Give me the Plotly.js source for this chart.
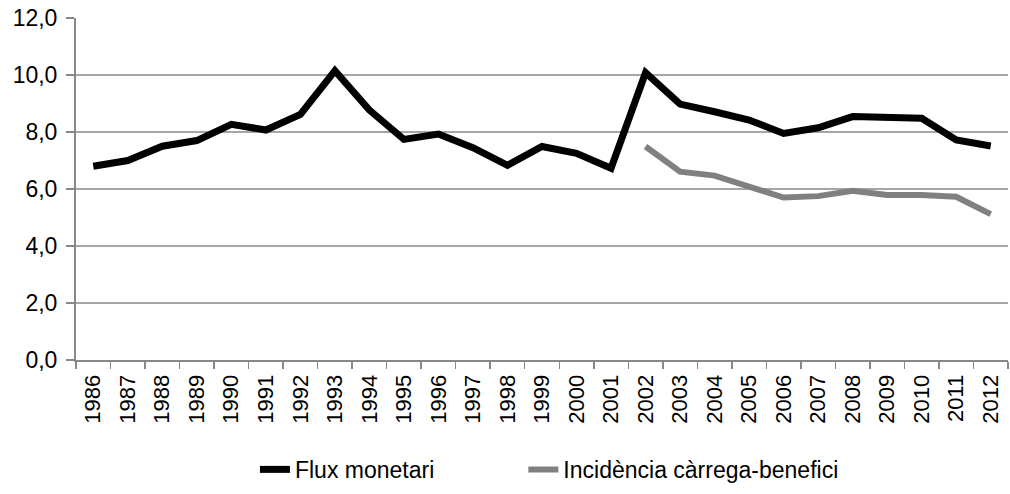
<!DOCTYPE html>
<html>
<head>
<meta charset="utf-8">
<script src="https://cdn.plot.ly/plotly-3.0.1.min.js"></script>
<style>html,body{margin:0;padding:0;background:#fff;}#chart{width:1010px;height:494px;}</style>
</head>
<body>
<div id="chart"></div>
<script>
var years = ["1986","1987","1988","1989","1990","1991","1992","1993","1994","1995","1996","1997","1998","1999","2000","2001","2002","2003","2004","2005","2006","2007","2008","2009","2010","2011","2012"];
var fluxMonetari = [6.8,7.0,7.5,7.7,8.27,8.07,8.62,10.15,8.77,7.74,7.93,7.45,6.83,7.49,7.25,6.73,10.08,8.98,8.71,8.42,7.95,8.15,8.54,8.48,8.48,7.72,7.51];
var incidencia = [null,null,null,null,null,null,null,null,null,null,null,null,null,null,null,null,7.49,6.61,6.47,6.08,5.70,5.75,5.94,5.79,5.79,5.73,5.12];
var seriesNames = ["Flux monetari","Incidència càrrega-benefici"];
var yTicks = [0,2,4,6,8,10,12];

var traces = [
  {x: years, y: fluxMonetari, name: seriesNames[0], type: "scatter", mode: "lines",
   line: {color: "#000000", width: 7}, connectgaps: false, legend: "legend"},
  {x: years, y: incidencia, name: seriesNames[1], type: "scatter", mode: "lines",
   line: {color: "#808080", width: 6}, connectgaps: false, legend: "legend2"}
];

var legendCommon = {orientation: "h", xanchor: "left", y: -0.32, yanchor: "middle",
                    font: {size: 23}, itemwidth: 30, bgcolor: "rgba(0,0,0,0)"};

var layout = {
  width: 1010, height: 494,
  margin: {l: 76, r: 2, t: 18, b: 134},
  paper_bgcolor: "#ffffff", plot_bgcolor: "#ffffff",
  font: {family: "Liberation Sans, Arial, sans-serif", size: 22, color: "#000000"},
  separators: ",.",
  showlegend: true,
  legend: Object.assign({}, legendCommon, {x: 0.192}),
  legend2: Object.assign({}, legendCommon, {x: 0.480}),
  xaxis: {type: "category", range: [-0.5, 26.5], tickangle: -90,
          tickson: "boundaries", ticks: "outside", ticklen: 7, tickcolor: "#888888", tickwidth: 1.5,
          showline: true, linecolor: "#888888", linewidth: 2, showgrid: false, zeroline: false,
          ticklabelstandoff: 4, tickfont: {size: 22}, fixedrange: true},
  yaxis: {range: [0, 12], tickvals: yTicks, tickformat: ".1f",
          ticks: "outside", ticklen: 8, tickcolor: "#888888", tickwidth: 1.5,
          showline: true, linecolor: "#888888", linewidth: 2, ticklabelstandoff: 4,
          showgrid: true, gridcolor: "#a6a6a6", gridwidth: 1.5, zeroline: false,
          tickfont: {size: 23}, fixedrange: true}
};

Plotly.newPlot("chart", traces, layout, {displayModeBar: false, staticPlot: true});
</script>
</body>
</html>
